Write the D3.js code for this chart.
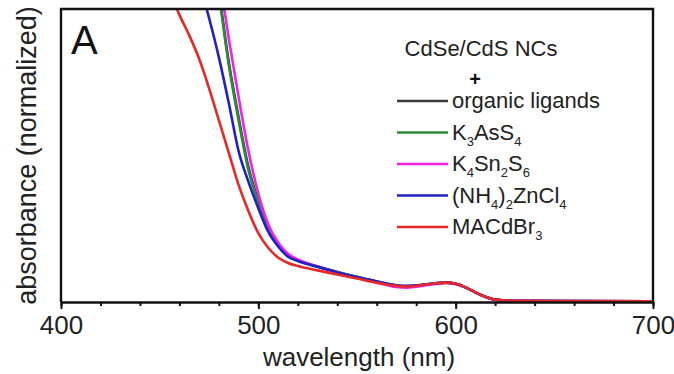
<!DOCTYPE html>
<html>
<head>
<meta charset="utf-8">
<script src="https://cdn.jsdelivr.net/npm/d3@7"></script>
<style>
  body { margin: 0; background: #fff; }
  svg { display: block; font-family: "Liberation Sans", Arial, Helvetica, sans-serif; }
</style>
</head>
<body>
<svg id="chart"></svg>
<script>
var w = 674;
var h = 374;

// wavelength grid (nm) and absorbance (normalized)
var wavelengths = [450, 455, 460, 465, 470, 475, 480, 485, 490, 495, 500, 505, 510, 515, 520,
  530, 540, 550, 560, 570, 575, 580, 590, 595, 600, 605, 610, 615, 620, 630, 650, 700];

var organicLigands = [null, null, null, null, 1.5, 1.27, 1.06, 0.82, 0.63, 0.46, 0.345, 0.258, 0.198, 0.161, 0.143,
  0.121, 0.102, 0.085, 0.07, 0.056, 0.054, 0.056, 0.064, 0.066, 0.062, 0.05, 0.033, 0.018, 0.008, 0.004, 0.003, 0.002];
var k3AsS4 = [null, null, null, null, 1.5, 1.27, 1.05, 0.81, 0.62, 0.45, 0.34, 0.255, 0.196, 0.16, 0.143,
  0.121, 0.102, 0.085, 0.07, 0.056, 0.053, 0.055, 0.064, 0.066, 0.062, 0.05, 0.033, 0.018, 0.008, 0.004, 0.003, 0.002];
var k4Sn2S6 = [null, null, null, null, null, 1.35, 1.12, 0.9, 0.7, 0.515, 0.37, 0.265, 0.203, 0.165, 0.145,
  0.121, 0.101, 0.083, 0.066, 0.051, 0.049, 0.052, 0.062, 0.065, 0.061, 0.049, 0.032, 0.017, 0.007, 0.004, 0.003, 0.002];
var nh4ZnCl4 = [null, null, 1.35, 1.21, 1.09, 0.97, 0.835, 0.68, 0.515, 0.41, 0.32, 0.24, 0.19, 0.155, 0.14,
  0.12, 0.101, 0.085, 0.07, 0.057, 0.055, 0.057, 0.064, 0.066, 0.062, 0.05, 0.033, 0.018, 0.008, 0.004, 0.003, 0.002];
var maCdBr3 = [1.14, 1.06, 0.98, 0.91, 0.83, 0.73, 0.62, 0.51, 0.40, 0.31, 0.235, 0.185, 0.152, 0.133, 0.123,
  0.108, 0.094, 0.08, 0.066, 0.055, 0.053, 0.055, 0.064, 0.066, 0.062, 0.05, 0.033, 0.018, 0.008, 0.004, 0.003, 0.002];

// legend labels: [text, subscript] pieces
var seriesLabels = [
  [["organic ligands", false]],
  [["K", false], ["3", true], ["AsS", false], ["4", true]],
  [["K", false], ["4", true], ["Sn", false], ["2", true], ["S", false], ["6", true]],
  [["(NH", false], ["4", true], [")", false], ["2", true], ["ZnCl", false], ["4", true]],
  [["MACdBr", false], ["3", true]]
];
var seriesValues = [organicLigands, k3AsS4, k4Sn2S6, nh4ZnCl4, maCdBr3];
var seriesColors = ["#3a3a3a", "#2c8a3a", "#f020f0", "#2020c8", "#e82828"];

var xMajorTicks = [400, 500, 600, 700];
var xMinorTicks = d3.range(400, 701, 20);

var plotLeft = 61, plotRight = 653, plotTop = 9, plotBottom = 302;

var svg = d3.select('#chart')
  .attr('width', w)
  .attr('height', h);

var x = d3.scaleLinear().domain([400, 700]).range([plotLeft, plotRight]);
var y = d3.scaleLinear().domain([0, 1]).range([plotBottom, plotTop]);

svg.append('clipPath').attr('id', 'plot-clip')
  .append('rect')
  .attr('x', plotLeft).attr('y', plotTop)
  .attr('width', plotRight - plotLeft).attr('height', plotBottom - plotTop);

// curves
var line = d3.line()
  .defined(function (d) { return d[1] != null })
  .x(function (d) { return x(d[0]) })
  .y(function (d) { return y(d[1]) })
  .curve(d3.curveMonotoneX);

svg.append('g')
  .attr('clip-path', 'url(#plot-clip)')
  .selectAll('path')
  .data(seriesValues)
.enter().append('path')
  .attr('d', function (d) { return line(wavelengths.map(function (wl, i) { return [wl, d[i]] })) })
  .attr('fill', 'none')
  .attr('stroke', function (d, i) { return seriesColors[i] })
  .attr('stroke-width', 2.6)
  .attr('stroke-linejoin', 'round');

// frame
svg.append('path')
  .attr('d', 'M' + plotLeft + ',' + plotBottom + 'V' + plotTop + 'H' + plotRight + 'V' + plotBottom)
  .attr('fill', 'none')
  .attr('stroke', '#111')
  .attr('stroke-width', 2.4);

// x axis: minor ticks, then major ticks with labels
var minorAxis = svg.append('g')
  .attr('transform', 'translate(0,' + plotBottom + ')')
  .call(d3.axisBottom(x).tickValues(xMinorTicks).tickSize(4).tickSizeOuter(0).tickFormat(''));
minorAxis.select('.domain').remove();
minorAxis.selectAll('line').attr('stroke', '#111').attr('stroke-width', 2);

var majorAxis = svg.append('g')
  .attr('transform', 'translate(0,' + plotBottom + ')')
  .call(d3.axisBottom(x).tickValues(xMajorTicks).tickSize(7).tickSizeOuter(0).tickPadding(7));
majorAxis.select('.domain')
  .attr('stroke', '#111')
  .attr('stroke-width', 2.6);
majorAxis.selectAll('line').attr('stroke', '#111').attr('stroke-width', 2);
majorAxis.selectAll('text')
  .attr('font-size', 26)
  .attr('font-family', '"Liberation Sans", Arial, sans-serif')
  .attr('fill', '#222');

// axis titles
svg.append('text')
  .attr('x', (plotLeft + plotRight) / 2 + 2)
  .attr('y', 366)
  .attr('text-anchor', 'middle')
  .attr('font-size', 26)
  .attr('fill', '#222')
  .text('wavelength (nm)');

svg.append('text')
  .attr('transform', 'translate(36,' + ((plotTop + plotBottom) / 2) + ') rotate(-90)')
  .attr('text-anchor', 'middle')
  .attr('font-size', 27)
  .attr('fill', '#222')
  .text('absorbance (normalized)');

// panel letter
svg.append('text')
  .attr('x', 71)
  .attr('y', 54)
  .attr('font-size', 40)
  .attr('fill', '#111')
  .text('A');

// legend
svg.append('text')
  .attr('x', 481)
  .attr('y', 56)
  .attr('text-anchor', 'middle')
  .attr('font-size', 22)
  .attr('fill', '#222')
  .text('CdSe/CdS NCs');

svg.append('text')
  .attr('x', 475)
  .attr('y', 86)
  .attr('text-anchor', 'middle')
  .attr('font-size', 20)
  .attr('font-weight', 'bold')
  .attr('fill', '#111')
  .text('+');

var legend = svg.append('g').selectAll('g')
  .data(seriesLabels)
.enter().append('g')
  .attr('transform', function (d, i) { return 'translate(0,' + (101 + i * 31.5) + ')' });

legend.append('line')
  .attr('x1', 397).attr('x2', 448)
  .attr('y1', 0).attr('y2', 0)
  .attr('stroke', function (d, i) { return seriesColors[i] })
  .attr('stroke-width', 2.6);

legend.append('text')
  .attr('x', 452)
  .attr('y', 7)
  .attr('font-size', 22)
  .attr('fill', '#222')
  .each(function (parts) {
    var t = d3.select(this);
    var shifted = false;
    parts.forEach(function (p) {
      var s = t.append('tspan').text(p[0]);
      if (p[1]) {
        s.attr('font-size', 13).attr('dy', shifted ? 0 : 6);
        shifted = true;
      } else {
        s.attr('dy', shifted ? -6 : 0);
        shifted = false;
      }
    });
  });
</script>
</body>
</html>
